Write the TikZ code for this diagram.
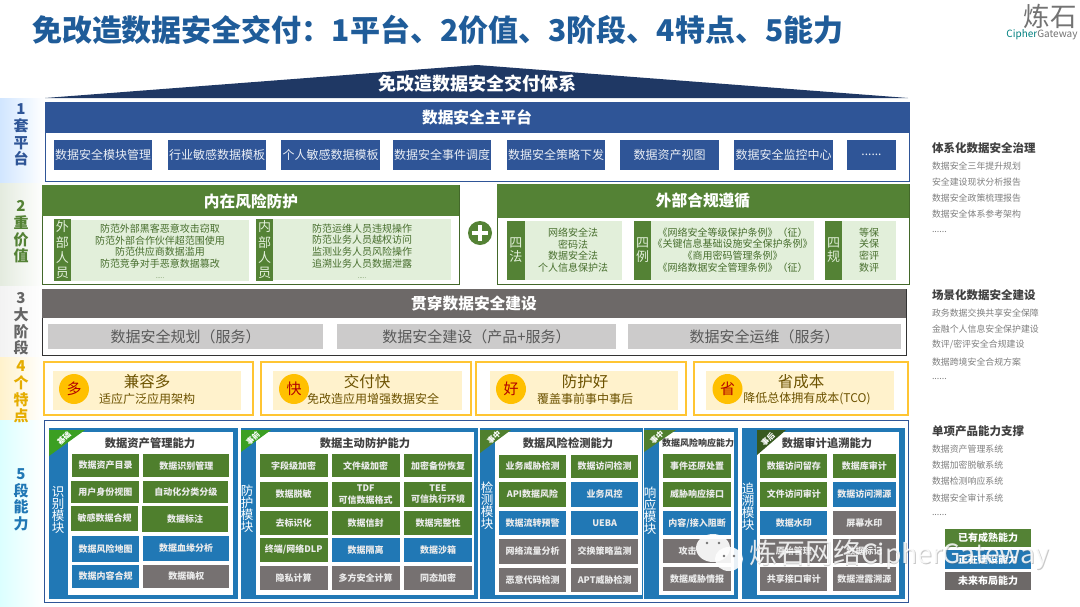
\documentclass[tikz,border=0pt]{standalone}
\usepackage{fontspec}
\usepackage{tikz}
\setmainfont{Noto Sans CJK SC}
\usetikzlibrary{calc}
\definecolor{titleblue}{HTML}{1F5C99}
\definecolor{navy}{HTML}{1F3864}
\definecolor{platblue}{HTML}{2F5597}
\definecolor{riskgreen}{HTML}{548235}
\definecolor{palegreen}{HTML}{E2EFDA}
\definecolor{bargrey}{HTML}{6D6968}
\definecolor{stagegrey}{HTML}{CCCBCB}
\definecolor{gold}{HTML}{FFC533}
\definecolor{palegold}{HTML}{FFF2CC}
\definecolor{coinfill}{HTML}{FFC000}
\definecolor{cellg}{HTML}{4F7F2D}
\definecolor{cellb}{HTML}{2178B5}
\definecolor{cellk}{HTML}{767171}
\definecolor{listgrey}{HTML}{7F7F7F}
\definecolor{headgrey}{HTML}{404040}
\newcommand{\rectnode}[7]{\node[#6, minimum width={(#4-#2)*1pt}, minimum height={(#5-#3)*1pt}] (#1) at ({(#2+#4)/2},{(#3+#5)/2}) {#7};}
\begin{document}
\begin{tikzpicture}[x=1pt,y=-1pt,
    flat/.style={inner sep=0pt, outer sep=0pt},
    band/.style={flat, rectangle, right color=white},
    rowlabel/.style={flat, align=center, font=\fontsize{15}{16.6}\selectfont\bfseries},
    headtext/.style={flat, text=white, font=\fontsize{15.7}{17}\selectfont\bfseries},
    platitem/.style={flat, fill=platblue, text=white!90!platblue, font=\fontsize{12}{14}\selectfont},
    tag/.style={flat, fill=riskgreen, text=palegreen, align=center},
    panel/.style={flat, fill=palegreen},
    paneltext/.style={flat, align=center, text=riskgreen!85!black, font=\fontsize{10}{11.7}\selectfont},
    stage/.style={flat, fill=stagegrey, text=black!65, font=\fontsize{15}{17}\selectfont},
    coin/.style={flat, circle, fill=coinfill, minimum size=30pt, text=red!70!black, font=\fontsize{15}{17}\selectfont},
    featbig/.style={flat, text=black!50!coinfill!85!black, font=\fontsize{15.5}{17}\selectfont},
    featsmall/.style={flat, text=black!50!coinfill!85!black, font=\fontsize{12}{14}\selectfont},
    cell/.style={flat, text=white!92!black, align=center, font=\fontsize{9}{11.5}\selectfont\bfseries},
    modtitle/.style={flat, text=headgrey, font=\fontsize{11.3}{13}\selectfont\bfseries},
    modside/.style={flat, text=white, align=center, font=\fontsize{12.5}{11.9}\selectfont},
    tagtext/.style={flat, text=white, rotate=45, font=\fontsize{7.5}{8}\selectfont\bfseries},
    listhead/.style={flat, anchor=west, text=headgrey, font=\fontsize{11.5}{13}\selectfont\bfseries},
    listline/.style={flat, anchor=west, text=listgrey, font=\fontsize{8.9}{10}\selectfont},
    legend/.style={flat, text=white, font=\fontsize{10}{12}\selectfont\bfseries}]
  \useasboundingbox (0,0) rectangle (1080,606);
  \fill[white] (0,0) rectangle (1080,606);

  \rectnode{band1}{0}{98}{44}{183}{band, left color=blue!55!cyan!18}{}
  \rectnode{band2}{0}{183}{44}{286}{band, left color=riskgreen!16}{}
  \rectnode{band3}{0}{286}{44}{357}{band, left color=black!5}{}
  \rectnode{band4}{0}{357}{44}{420}{band, left color=palegold}{}
  \rectnode{band5}{0}{420}{44}{606}{band, left color=cyan!14}{}
  \node[rowlabel, text=platblue] (label1) at (21,135) {1\\套\\平\\台};
  \node[rowlabel, text=riskgreen] (label2) at (21,232) {2\\重\\价\\值};
  \node[rowlabel, text=black!60] (label3) at (21,324) {3\\大\\阶\\段};
  \node[rowlabel, text=coinfill!90!black] (label4) at (21,392) {4\\个\\特\\点};
  \node[rowlabel, text=cellb] (label5) at (21,500) {5\\段\\能\\力};

  \node[flat, anchor=west, text=titleblue, font=\fontsize{30}{32}\selectfont\bfseries] (title) at (32,30) {免改造数据安全交付：1平台、2价值、3阶段、4特点、5能力};
  \node[flat, text=black!55, font=\fontsize{26.5}{28}\selectfont] (logomark) at (1050,16) {炼石};
  \node[flat, text=black!55, font=\fontsize{10}{12}\selectfont] (logoname) at (1042,35) {\textcolor{teal}{Cipher}Gateway};

  \fill[navy] (45,98) -- (477,65) -- (908,98) -- cycle;
  \node[flat, text=white, font=\fontsize{18}{20}\selectfont\bfseries] (roof) at (477,84) {免改造数据安全交付体系};

  \rectnode{platform}{45}{102}{909}{181}{flat, draw=platblue, line width=1pt}{}
  \rectnode{platbar}{45}{102}{909}{133}{flat, fill=platblue}{}
  \node[headtext] (plattitle) at (477,117) {数据安全主平台};
  \foreach \n/\xa/\xb/\t in {p1/54/152/数据安全模块管理, p2/168/266/行业敏感数据模板, p3/281/380/个人敏感数据模板, p4/393/491/数据安全事件调度, p5/507/605/数据安全策略下发, p6/620/719/数据资产视图, p7/734/833/数据安全监控中心, p8/847/896/{......}}
    {\rectnode{\n}{\xa}{140}{\xb}{170}{platitem}{\t}}

  \rectnode{risk}{42}{185}{459}{284}{flat, draw=riskgreen!80!black, line width=1pt}{}
  \rectnode{riskbar}{42}{185}{459}{216}{flat, fill=riskgreen}{}
  \node[headtext] (risktitle) at (251,201) {内在风险防护};
  \rectnode{riskpa}{71}{220}{249}{281}{panel}{}
  \rectnode{risktaga}{54}{219}{71}{281}{tag, font=\fontsize{13}{15.3}\selectfont}{外\\部\\人\\员}
  \node[paneltext] (risktexta) at (160,251) {防范外部黑客恶意攻击窃取\\防范外部合作伙伴超范围使用\\防范供应商数据滥用\\防范竞争对手恶意数据篡改\\[-1pt]{\fontsize{6}{7}\selectfont .....}};
  \rectnode{riskpb}{273}{219}{451}{280}{panel}{}
  \rectnode{risktagb}{256}{219}{273}{281}{tag, font=\fontsize{13}{15.3}\selectfont}{内\\部\\人\\员}
  \node[paneltext] (risktextb) at (362,251) {防范运维人员违规操作\\防范业务人员越权访问\\监测业务人员风险操作\\追溯业务人员数据泄露\\[-1pt]{\fontsize{6}{7}\selectfont .....}};

  \node[flat, circle, fill=riskgreen, minimum size=24pt] (plus) at (480,233) {};
  \draw[white, line width=4pt] ([xshift=-8pt]plus.center) -- ([xshift=8pt]plus.center);
  \draw[white, line width=4pt] ([yshift=-8pt]plus.center) -- ([yshift=8pt]plus.center);

  \rectnode{comply}{497}{184}{909}{284}{flat, draw=riskgreen!80!black, line width=1pt}{}
  \rectnode{complybar}{497}{184}{909}{218}{flat, fill=riskgreen}{}
  \node[headtext] (complytitle) at (703,201) {外部合规遵循};
  \foreach \n/\xa/\xb/\xc/\t in {fa/507/524.5/622/{四\\法}, li/634/651/813.5/{四\\例}, gui/825/842/896/{四\\规}}
    {\rectnode{\n panel}{\xb}{221}{\xc}{280}{panel}{}
     \rectnode{\n tag}{\xa}{221}{\xb}{280}{tag, font=\fontsize{13}{14}\selectfont}{\t}}
  \node[paneltext] (falist) at (573,250) {网络安全法\\密码法\\数据安全法\\个人信息保护法};
  \node[paneltext] (lilist) at (732.5,250) {《网络安全等级保护条例》（征）\\《关键信息基础设施安全保护条例》\\《商用密码管理条例》\\《网络数据安全管理条例》（征）};
  \node[paneltext] (guilist) at (869,250) {等保\\关保\\密评\\数评};

  \rectnode{build}{42}{289}{906}{355}{flat, draw=black!80, line width=1pt}{}
  \rectnode{buildbar}{42}{289}{906}{318}{flat, fill=bargrey}{}
  \node[headtext] (buildtitle) at (474,304) {贯穿数据安全建设};
  \rectnode{s1}{48}{324}{323}{349}{stage}{数据安全规划（服务）}
  \rectnode{s2}{337}{324}{616}{349}{stage}{数据安全建设（产品+服务）}
  \rectnode{s3}{628}{324}{901}{349}{stage}{数据安全运维（服务）}

  \foreach \n/\xa/\xb/\xc/\xd/\cx/\ta/\tb/\tc/\td/\te in {a/44/253/53/241/74/多/兼容多/适应广泛应用架构/147/147, b/261/471/273/462/294/快/交付快/免改造应用增强数据安全/367/373, c/476/686/489.5/678/511/好/防护好/覆盖事前事中事后/585/585, d/694/908/706/894/727.5/省/省成本/降低总体拥有成本(TCO)/801/807}
    {\rectnode{feat\n}{\xa}{362}{\xb}{415}{flat, draw=gold, line width=1.2pt}{}
     \rectnode{feat\n in}{\xc}{371}{\xd}{410}{flat, fill=palegold}{}
     \node[featbig] (feat\n big) at (\td,382) {\tb};
     \node[featsmall] (feat\n small) at (\te,398.5) {\tc};
     \node[coin] (feat\n coin) at (\cx,389) {\ta};}

  \rectnode{ability}{44}{420}{908}{602}{flat, fill=white, draw=platblue, line width=1pt}{}
  \foreach \n/\xa/\xb/\xc/\xd/\xt/\xe/\tagx/\ty/\tagc/\tagt/\tagy/\mt/\mx/\sx/\sy/\st in {
      m1/49/238/68/233/85/49/64/456/cellg!75!green/基础/438/数据资产管理能力/150/58/510/{识\\别\\模\\块},
      m2/241/478/256/474/271/241/253/452/cellg!75!green/事前/438/数据主动防护能力/365/247/509/{防\\护\\模\\块},
      m3/480/643/495/642/511/480/494/453/cellg/事中/437/数据风险检测能力/568/487/506/{检\\测\\模\\块},
      m5/742/905/757/899/786/757/768/455/cellg!70!black/事后/439/数据审计追溯能力/827/748/507/{追\\溯\\模\\块}}
    {\rectnode{\n frame}{\xa}{428}{\xb}{599}{flat, fill=cellb}{}
     \rectnode{\n inner}{\xc}{432}{\xd}{595}{flat, fill=white}{}
     \fill[fill=\tagc] (\xe,430) -- (\xt,430) -- (\xe,\ty) -- cycle;
     \node[tagtext] (\n tag) at (\tagx,\tagy) {\tagt};
     \node[modtitle] (\n title) at (\mx,443) {\mt};
     \node[modside] (\n side) at (\sx,\sy) {\st};}
  \rectnode{m4frame}{644}{428}{738}{599}{flat, fill=cellb}{}
  \rectnode{m4inner}{659}{432}{734}{595}{flat, fill=white}{}
  \fill[cellg] (644,430) -- (676,430) -- (644,452) -- cycle;
  \node[tagtext] (m4tag) at (657,437) {事中};
  \node[modtitle, font=\fontsize{9}{11}\selectfont\bfseries] (m4title) at (698,443) {数据风险响应能力};
  \node[modside] (m4side) at (650,511) {响\\应\\模\\块};

  \foreach \n/\xa/\ya/\xb/\yb/\c/\t in {
      a1/71.7/454/139.3/476.7/cellg/数据资产目录, a2/143.3/454/229.3/477.3/cellg/数据识别管理,
      a3/71.3/480.7/139.3/502.7/cellg/用户身份视图, a4/143.3/480.7/228.3/502.7/cellg/自动化分类分级,
      a5/71.3/506/138/531/cellg/敏感数据合规, a6/142.3/506/227.7/531.7/cellg/数据标注,
      a7/72/535.7/139.3/561.7/cellb/数据风险地图, a8/143.3/535.7/228.7/561/cellb/数据血缘分析,
      a9/72/565/139.3/587.7/cellb/数据内容合规, a10/143.3/565/229.3/587.7/cellk/数据确权,
      b1/259.7/454/327.7/477.3/cellg/字段级加密, b2/331.7/454/399.7/477.3/cellg/文件级加密, b3/404/454/472/477.3/cellg/加密备份恢复,
      b4/259.7/482/327.7/506.7/cellg/数据脱敏, b5/331.7/482/399.7/506.7/cellg/{TDF\\可信数据格式}, b6/404/482/472/506.7/cellg/{TEE\\可信执行环境},
      b7/259.7/511.3/327.7/535/cellg/去标识化, b8/331.7/511.3/399.7/535/cellg/数据信封, b9/404/511.3/472/535/cellg/数据完整性,
      b10/259.7/538/327.7/561.7/cellg/{终端/网络DLP}, b11/331.7/538/399.7/561.7/cellb/数据隔离, b12/404/538/472/561.7/cellb/数据沙箱,
      b13/259.7/566.3/327.7/589.7/cellk/隐私计算, b14/331.7/566.3/399.7/589.7/cellk/多方安全计算, b15/404/566.3/472/589.7/cellk/同态加密,
      c1/499/454.7/566/478.3/cellg/业务威胁检测, c2/571/454.7/638.3/478.3/cellg/数据访问检测,
      c3/499/482.3/566/506.7/cellg/API数据风险, c4/571/482.3/638.3/506.7/cellb/业务风控,
      c5/499/511.3/566/534.7/cellb/数据流转预警, c6/571/511.3/638.3/534.7/cellb/UEBA,
      c7/499/539/566/563.7/cellk/网络流量分析, c8/571/539/638.3/563.7/cellk/交换策略监测,
      c9/499/568/566/591.7/cellk/恶意代码检测, c10/571/568/638.3/591.7/cellk/APT威胁检测,
      d1/663.3/454/731/478.3/cellg/事件还原处置, d2/663.3/482.3/731/506.7/cellg/威胁响应接口,
      d3/663.3/511/731/535/cellb/{内容/接入阻断}, d4/663.3/539.3/731/563.3/cellk/攻击\hspace{19pt}, d5/663.3/567.3/731/591/cellk/数据威胁情报,
      e1/760.3/454/827.3/478.3/cellg/数据访问留存, e2/832.7/454/896/478.3/cellg/数据库审计,
      e3/760.3/482.3/827.3/506.7/cellg/文件访问审计, e4/832.7/482.3/896/506.7/cellb/数据访问溯源,
      e5/760.3/511/827.3/535/cellb/数据水印, e6/832.7/511/896/535/cellk/屏幕水印,
      e7/760.3/539.3/827.3/563.3/cellk/原始管理, e8/832.7/539.3/896/563.3/cellk/数据标记,
      e9/760.3/567.3/827.3/591/cellk/共享接口审计, e10/832.7/567.3/896/591/cellk/数据泄露溯源}
    {\rectnode{\n}{\xa}{\ya}{\xb}{\yb}{cell, fill=\c}{\t}}

  \node[listhead] (gova) at (932,148) {体系化数据安全治理};
  \foreach \n/\y/\t in {govb/166/数据安全三年提升规划, govc/182/安全建设现状分析报告, govd/198/数据安全政策梳理报告, gove/214/数据安全体系参考架构, govf/232/{......}}
    {\node[listline] (\n) at (932,\y) {\t};}
  \node[listhead] (scena) at (932,295) {场景化数据安全建设};
  \foreach \n/\y/\t in {scenb/313/政务数据交换共享安全保障, scenc/329/金融个人信息安全保护建设, scend/345/{数评/密评安全合规建设}, scene/362/数据跨境安全合规方案, scenf/379/{......}}
    {\node[listline] (\n) at (932,\y) {\t};}
  \node[listhead] (proda) at (932,431) {单项产品能力支撑};
  \foreach \n/\y/\t in {prodb/449/数据资产管理系统, prodc/465/数据加密脱敏系统, prodd/481/数据检测响应系统, prode/498/数据安全审计系统, prodf/515/{......}}
    {\node[listline] (\n) at (932,\y) {\t};}
  \rectnode{lega}{945}{529}{1031}{547}{legend, fill=riskgreen}{已有成熟能力}
  \rectnode{legb}{945}{550}{1031}{569}{legend, fill=cellb}{正在建设能力}
  \rectnode{legc}{945}{572}{1031}{590}{legend, fill=bargrey}{未来布局能力}

  \fill[white, opacity=.9] (713,548) ellipse (17pt and 14pt);
  \fill[white, opacity=.9] (729,559) ellipse (14pt and 12pt);
  \foreach \x/\y in {707/543, 719/543, 724/556, 734/556}
    {\fill[black!55] (\x,\y) circle (1.4pt);}
  \node[flat, anchor=west, text=black!60, opacity=.35, font=\fontsize{28}{30}\selectfont] (markb) at (749.7,555.5) {炼石网络{\fontsize{26.5}{30}\selectfont CipherGateway}};
  \node[flat, anchor=west, text=white, opacity=.85, font=\fontsize{28}{30}\selectfont] (marka) at (749,555) {炼石网络{\fontsize{26.5}{30}\selectfont CipherGateway}};
\end{tikzpicture}
\end{document}
